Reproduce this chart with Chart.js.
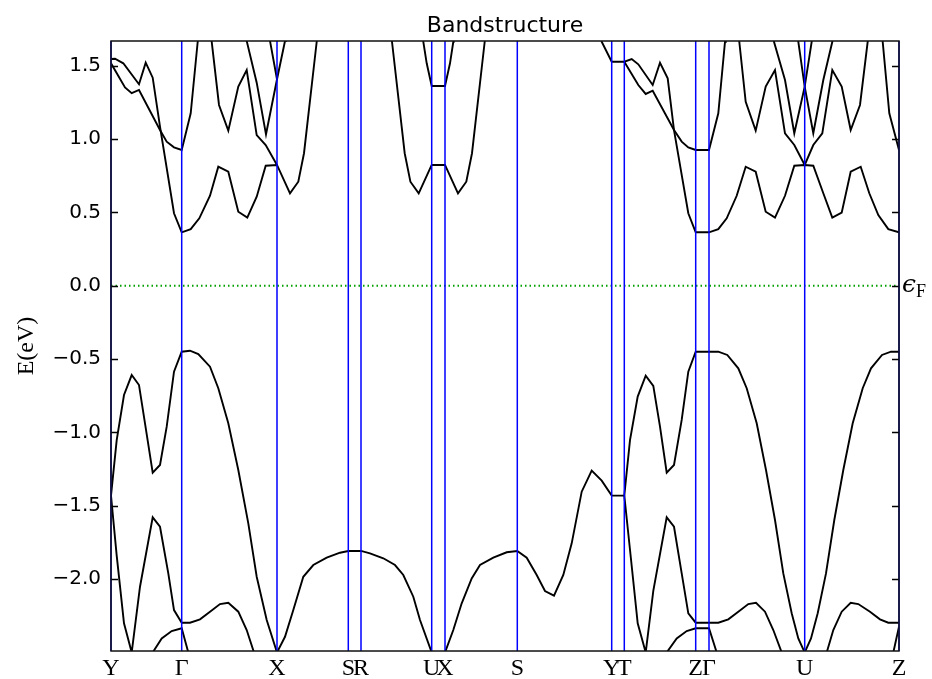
<!DOCTYPE html>
<html>
<head>
<meta charset="utf-8">
<script src="https://cdn.jsdelivr.net/npm/chart.js@4/dist/chart.umd.min.js"></script>
<style>
  html, body { margin: 0; padding: 0; background: #fff; }
  #wrap { width: 932px; height: 679px; }
</style>
</head>
<body>
<div id="wrap"><canvas id="myChart" width="932" height="679"></canvas></div>
<script>
// high symmetry points along the k path
const kTicks = [0, 0.707, 1.66, 2.373, 2.5, 3.207, 3.34, 4.063, 5.007, 5.133, 5.847, 5.98, 6.937, 7.88]
const kLabels = ['Y', 'Γ', 'X', 'S', 'R', 'U', 'X', 'S', 'Y', 'T', 'Z', 'Γ', 'U', 'Z']
const eTicks = [-2.0, -1.5, -1.0, -0.5, 0.0, 0.5, 1.0, 1.5]
const eMin = -2.49
const eMax = 1.668

// conduction bands  [k, E]
const cbYG1 = [[0,1.516],[0.14,1.352],[0.207,1.312],[0.28,1.334],[0.49,1.061],[0.557,0.982],[0.63,0.943],[0.707,0.925],[0.797,1.175],[0.867,1.663],[0.874,1.72]]
const cbYG2 = [[0,1.545],[0.04,1.547],[0.123,1.516],[0.28,1.373],[0.347,1.52],[0.417,1.418],[0.49,1.084],[0.63,0.494],[0.707,0.364],[0.797,0.386],[0.883,0.459],[0.99,0.613],[1.073,0.811],[1.173,0.777],[1.273,0.504],[1.363,0.464],[1.457,0.607],[1.547,0.818],[1.66,0.823],[1.79,0.63],[1.873,0.709],[1.93,0.903],[2.057,1.663],[2.066,1.72]]
const cbGX3 = [[1.003,1.72],[1.007,1.663],[1.08,1.232],[1.173,1.057],[1.273,1.357],[1.357,1.47],[1.457,1.027],[1.547,0.959],[1.66,0.823]]
const cbX4 = [[1.35,1.72],[1.357,1.668],[1.457,1.384],[1.55,1.032],[1.66,1.407],[1.74,1.668],[1.748,1.72]]
const cbX5 = [[1.585,1.72],[1.59,1.668],[1.66,1.407]]
const cbUX1 = [[2.803,1.72],[2.81,1.663],[2.937,0.903],[2.994,0.709],[3.077,0.63],[3.207,0.823],[3.34,0.823],[3.47,0.63],[3.553,0.709],[3.61,0.903],[3.737,1.663],[3.744,1.72]]
const cbUX2 = [[3.119,1.72],[3.123,1.663],[3.157,1.516],[3.207,1.361],[3.34,1.361],[3.39,1.516],[3.423,1.663],[3.427,1.72]]
const cbSZ1 = [[4.903,1.72],[4.907,1.663],[5.007,1.527],[5.133,1.527],[5.207,1.545],[5.273,1.509],[5.417,1.368],[5.49,1.52],[5.567,1.414],[5.63,1.061],[5.773,0.494],[5.847,0.364],[5.98,0.364],[6.073,0.386],[6.157,0.459],[6.257,0.613],[6.347,0.811],[6.447,0.777],[6.547,0.504],[6.64,0.464],[6.74,0.613],[6.833,0.818],[6.937,0.823],[7.023,0.818],[7.123,0.63],[7.213,0.464],[7.307,0.498],[7.397,0.777],[7.497,0.811],[7.583,0.63],[7.673,0.482],[7.773,0.386],[7.88,0.364]]
const cbTZ2 = [[5.133,1.527],[5.273,1.368],[5.347,1.307],[5.417,1.329],[5.63,1.061],[5.707,0.982],[5.773,0.943],[5.847,0.925],[5.98,0.925],[6.073,1.175],[6.14,1.663],[6.148,1.72]]
const cbGU3 = [[6.28,1.72],[6.283,1.663],[6.347,1.254],[6.447,1.057],[6.547,1.357],[6.64,1.47],[6.74,1.039],[6.833,0.959],[6.937,0.823],[7.023,0.959],[7.113,1.039],[7.213,1.47],[7.307,1.357],[7.397,1.061],[7.49,1.232],[7.567,1.663],[7.575,1.72]]
const cbU4 = [[6.625,1.72],[6.63,1.663],[6.74,1.402],[6.833,1.039],[6.937,1.357],[7.007,1.663],[7.015,1.72]]
const cbU5 = [[6.867,1.72],[6.873,1.663],[6.937,1.357],[7.023,1.039],[7.123,1.402],[7.213,1.663],[7.22,1.72]]
const cbZ6 = [[7.71,1.72],[7.717,1.663],[7.783,1.175],[7.88,0.925]]

// valence bands  [k, E]
const vbYU1 = [[0,-1.431],[0.057,-1.052],[0.13,-0.745],[0.207,-0.609],[0.28,-0.677],[0.34,-0.938],[0.417,-1.275],[0.49,-1.222],[0.557,-0.961],[0.63,-0.586],[0.707,-0.45],[0.79,-0.443],[0.873,-0.466],[0.99,-0.552],[1.073,-0.699],[1.173,-0.938],[1.273,-1.256],[1.373,-1.62],[1.457,-1.984],[1.557,-2.279],[1.66,-2.5],[1.74,-2.393],[1.823,-2.211],[1.923,-1.984],[2.023,-1.904],[2.157,-1.854],[2.29,-1.82],[2.373,-1.808],[2.5,-1.808],[2.59,-1.824],[2.723,-1.858],[2.84,-1.904],[2.923,-1.972],[3.023,-2.12],[3.09,-2.279],[3.207,-2.5]]
const vbXZ1 = [[3.34,-2.5],[3.423,-2.347],[3.507,-2.165],[3.607,-1.995],[3.69,-1.904],[3.823,-1.854],[3.957,-1.817],[4.063,-1.808],[4.157,-1.854],[4.257,-1.972],[4.34,-2.081],[4.43,-2.113],[4.523,-1.972],[4.607,-1.756],[4.707,-1.404],[4.807,-1.261],[4.907,-1.329],[5.007,-1.431],[5.133,-1.431],[5.19,-1.052],[5.267,-0.756],[5.347,-0.613],[5.423,-0.683],[5.49,-0.961],[5.557,-1.275],[5.63,-1.222],[5.707,-0.915],[5.773,-0.586],[5.847,-0.45],[5.98,-0.45],[6.073,-0.45],[6.163,-0.472],[6.273,-0.563],[6.357,-0.699],[6.457,-0.938],[6.55,-1.256],[6.64,-1.597],[6.723,-1.961],[6.807,-2.233],[6.873,-2.404],[6.937,-2.5],[7.0,-2.404],[7.067,-2.233],[7.15,-1.961],[7.233,-1.597],[7.323,-1.256],[7.417,-0.938],[7.517,-0.699],[7.6,-0.563],[7.71,-0.472],[7.8,-0.45],[7.88,-0.45]]
const vbYX2 = [[0,-1.431],[0.057,-1.84],[0.13,-2.301],[0.207,-2.5],[0.29,-2.052],[0.417,-1.579],[0.49,-1.643],[0.573,-1.961],[0.63,-2.211],[0.707,-2.297],[0.79,-2.297],[0.89,-2.274],[0.99,-2.222],[1.09,-2.17],[1.173,-2.161],[1.273,-2.222],[1.357,-2.347],[1.43,-2.5]]
const vbTU2 = [[5.133,-1.431],[5.19,-1.8],[5.267,-2.301],[5.347,-2.5],[5.423,-2.08],[5.557,-1.579],[5.63,-1.643],[5.707,-1.961],[5.773,-2.233],[5.847,-2.297],[5.98,-2.297],[6.073,-2.297],[6.173,-2.274],[6.273,-2.222],[6.373,-2.17],[6.45,-2.161],[6.54,-2.222],[6.623,-2.347],[6.707,-2.5]]
const vbUZ2 = [[7.157,-2.5],[7.223,-2.347],[7.307,-2.222],[7.397,-2.161],[7.473,-2.17],[7.59,-2.222],[7.69,-2.274],[7.773,-2.297],[7.88,-2.297]]
const vbG3 = [[0.417,-2.5],[0.507,-2.404],[0.607,-2.354],[0.707,-2.335],[0.773,-2.5]]
const vbZG3 = [[5.557,-2.5],[5.657,-2.404],[5.757,-2.354],[5.847,-2.335],[5.98,-2.335],[6.057,-2.5]]
const vbZ3 = [[7.823,-2.5],[7.88,-2.324]]
const fermi = [[0, 0], [7.88, 0]]

const bands = [cbYG1, cbYG2, cbGX3, cbX4, cbX5, cbUX1, cbUX2, cbSZ1, cbTZ2, cbGU3, cbU4, cbU5, cbZ6,
  vbYU1, vbXZ1, vbYX2, vbTU2, vbUZ2, vbG3, vbZG3, vbZ3]

const datasets = bands.map(b => ({
  data: b,
  borderColor: '#000',
  borderWidth: 1.9,
  pointRadius: 0,
  showLine: true,
  clip: 0
}))
datasets.push({
  data: fermi,
  borderColor: '#00a000',
  borderWidth: 2,
  borderDash: [1.5, 3],
  pointRadius: 0,
  showLine: true,
  clip: 0
})

// blue k-point lines, frame, inward ticks, title, axis label, fermi label
const decor = {
  id: 'decor',
  afterDatasetsDraw(chart) {
    const ctx = chart.ctx
    const a = chart.chartArea
    const x = chart.scales.x
    const y = chart.scales.y
    ctx.save()
    ctx.strokeStyle = '#0000ff'
    ctx.lineWidth = 1.5
    ctx.beginPath()
    kTicks.forEach(v => {
      const px = x.getPixelForValue(v)
      ctx.moveTo(px, a.top); ctx.lineTo(px, a.bottom)
    })
    ctx.stroke()

    ctx.strokeStyle = '#000'
    ctx.lineWidth = 1.3
    ctx.beginPath()
    eTicks.forEach(v => {
      const py = Math.round(y.getPixelForValue(v)) + 0.5
      ctx.moveTo(a.left, py); ctx.lineTo(a.left + 7, py)
      ctx.moveTo(a.right, py); ctx.lineTo(a.right - 7, py)
    })
    ctx.stroke()
    ctx.strokeStyle = '#111'
    ctx.lineWidth = 1.5
    ctx.strokeRect(a.left, a.top, a.right - a.left, a.bottom - a.top)

    ctx.fillStyle = '#000'
    ctx.font = '22px "DejaVu Sans"'
    ctx.textAlign = 'center'
    ctx.textBaseline = 'alphabetic'
    ctx.fillText('Bandstructure', (a.left + a.right) / 2, 32)

    ctx.save()
    ctx.translate(27, (a.top + a.bottom) / 2)
    ctx.rotate(-Math.PI / 2)
    ctx.font = '24px "Liberation Serif"'
    ctx.textBaseline = 'middle'
    ctx.fillText('E(eV)', 0, 0)
    ctx.restore()

    const p0 = y.getPixelForValue(0)
    ctx.textAlign = 'left'
    ctx.font = 'italic 25px "DejaVu Serif"'
    ctx.fillText('ϵ', a.right + 3, p0 + 6)
    const w = ctx.measureText('ϵ').width
    ctx.font = '18px "Liberation Serif"'
    ctx.fillText('F', a.right + 3 + w, p0 + 11)
    ctx.restore()
  }
}

const $ctx = document.getElementById('myChart').getContext('2d')
new Chart($ctx, {
  type: 'scatter',
  data: { datasets: datasets },
  options: {
    responsive: false,
    animation: false,
    layout: { padding: { left: 0, top: 41, right: 33, bottom: 0 } },
    plugins: { legend: { display: false }, tooltip: { enabled: false }, title: { display: false } },
    scales: {
      x: {
        type: 'linear',
        min: 0,
        max: 7.88,
        afterBuildTicks: axis => { axis.ticks = kTicks.map(v => ({ value: v })) },
        afterFit: scale => { scale.height = 28 },
        border: { display: false },
        grid: { display: false, drawTicks: false },
        ticks: {
          autoSkip: false,
          maxRotation: 0,
          padding: 3,
          color: '#000',
          font: { family: 'Liberation Serif', size: 24 },
          callback: (v, i) => kLabels[i]
        }
      },
      y: {
        min: eMin,
        max: eMax,
        afterBuildTicks: axis => { axis.ticks = eTicks.map(v => ({ value: v })) },
        afterFit: scale => { scale.width = 111 },
        border: { display: false },
        grid: { display: false, drawTicks: false },
        ticks: {
          padding: 10,
          color: '#000',
          font: { family: 'DejaVu Sans', size: 20 },
          callback: v => v.toFixed(1).replace('-', '−')
        }
      }
    }
  },
  plugins: [decor]
})
</script>
</body>
</html>
